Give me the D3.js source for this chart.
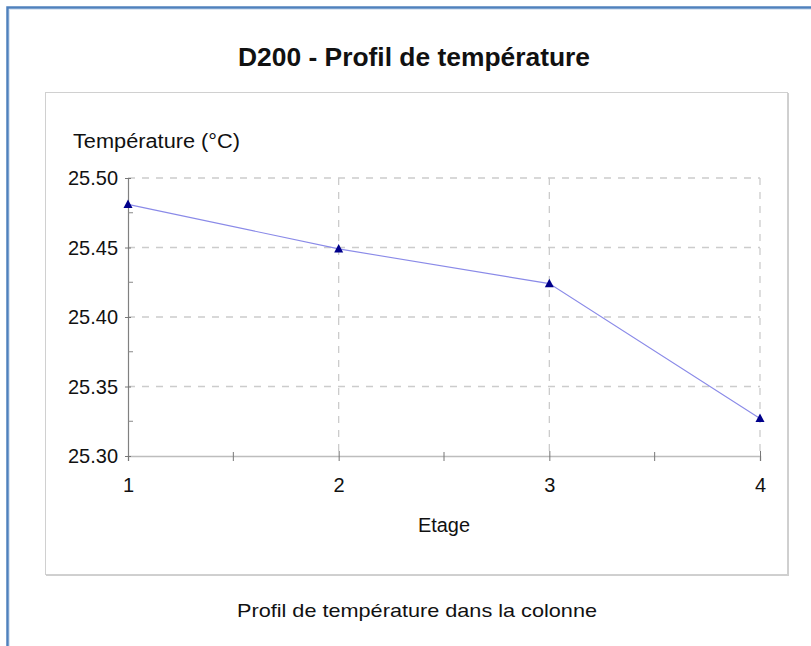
<!DOCTYPE html>
<html><head><meta charset="utf-8">
<script src="https://cdn.jsdelivr.net/npm/d3@7"></script>
<style>body{margin:0;background:#fff;} svg{display:block;font-family:"Liberation Sans",Arial,sans-serif;}</style>
</head><body>
<svg id="c" width="811" height="646"></svg>
<script>
const etages = [1, 2, 3, 4];
const temperatures = [25.481, 25.449, 25.424, 25.327];
const yTicks = [25.30, 25.35, 25.40, 25.45, 25.50];
const yMinorTicks = [25.325, 25.375, 25.425, 25.475];
const xMinorTicks = [1.5, 2.5, 3.5];
const title = "D200 - Profil de température";
const yLabel = "Température (°C)";
const xLabel = "Etage";
const caption = "Profil de température dans la colonne";

const svg = d3.select("#c");
// outer blue frame
svg.append("rect").attr("x", 7.5).attr("y", 7.5).attr("width", 820).attr("height", 660)
  .attr("fill", "none").attr("stroke", "#4f81bd").attr("stroke-width", 2.5);
svg.append("rect").attr("x", 9.5).attr("y", 9.5).attr("width", 820).attr("height", 660)
  .attr("fill", "none").attr("stroke", "#dce6f2").attr("stroke-width", 1);

svg.append("text").attr("x", 414).attr("y", 66).attr("text-anchor", "middle")
  .attr("font-size", 25).attr("font-weight", "bold").attr("fill", "#111")
  .attr("textLength", 352).attr("lengthAdjust", "spacingAndGlyphs").text(title);

// inner box with shadow
svg.append("rect").attr("x", 46).attr("y", 93).attr("width", 743).attr("height", 483).attr("fill", "#cfcfcf");
svg.append("rect").attr("x", 45.5).attr("y", 92.5).attr("width", 742).attr("height", 482)
  .attr("fill", "#fff").attr("stroke", "#d0d0d0").attr("stroke-width", 1);

const x = d3.scaleLinear().domain([1, 4]).range([128, 760]);
const y = d3.scaleLinear().domain([25.30, 25.50]).range([456, 178]);

// grid
const g = svg.append("g");
g.selectAll(".hg").data(yTicks.filter(d => d > 25.30)).join("line")
  .attr("x1", x(1)).attr("x2", x(4)).attr("y1", d => y(d)).attr("y2", d => y(d))
  .attr("stroke", "#cccccc").attr("stroke-dasharray", "7,7").attr("stroke-width", 1.3);
g.selectAll(".vg").data(etages.filter(d => d > 1)).join("line")
  .attr("x1", d => x(d)).attr("x2", d => x(d)).attr("y1", y(25.50)).attr("y2", y(25.30))
  .attr("stroke", "#cccccc").attr("stroke-dasharray", "7,7").attr("stroke-width", 1.3);

// x axis
const xAxis = d3.axisBottom(x).tickValues(etages).tickFormat(d3.format("d")).tickSize(5).tickPadding(17);
const xa = svg.append("g").attr("transform", `translate(0,${y(25.30)})`).call(xAxis);
xa.select(".domain").attr("stroke", "#bdbdbd").attr("stroke-width", 1.5);
xa.selectAll(".tick line").attr("stroke", "#777").attr("y1", -5);
xa.selectAll(".tick text").attr("font-size", 20).attr("fill", "#111")
  .attr("font-family", "Liberation Sans, Arial, sans-serif");
svg.append("g").selectAll("line").data(xMinorTicks).join("line")
  .attr("x1", d => x(d)).attr("x2", d => x(d)).attr("y1", y(25.30) - 4).attr("y2", y(25.30) + 5)
  .attr("stroke", "#777");

// y axis
const yAxis = d3.axisLeft(y).tickValues(yTicks).tickFormat(d3.format(".2f")).tickSize(3).tickPadding(7);
const ya = svg.append("g").attr("transform", `translate(${x(1)},0)`).call(yAxis);
ya.select(".domain").attr("stroke", "#808080").attr("stroke-width", 1.2);
ya.selectAll(".tick line").attr("stroke", "#777").attr("x2", 3).attr("x1", -3);
ya.selectAll(".tick text").attr("font-size", 21).attr("fill", "#111")
  .attr("textLength", 50).attr("lengthAdjust", "spacingAndGlyphs")
  .attr("font-family", "Liberation Sans, Arial, sans-serif");
svg.append("g").selectAll("line").data(yMinorTicks).join("line")
  .attr("x1", x(1)).attr("x2", x(1) + 5).attr("y1", d => y(d)).attr("y2", d => y(d))
  .attr("stroke", "#888");

// labels
svg.append("text").attr("x", 73).attr("y", 148).attr("font-size", 20).attr("fill", "#111")
  .attr("textLength", 167).attr("lengthAdjust", "spacingAndGlyphs").text(yLabel);
svg.append("text").attr("x", 444).attr("y", 532).attr("text-anchor", "middle").attr("font-size", 20).attr("fill", "#111")
  .attr("textLength", 52).attr("lengthAdjust", "spacingAndGlyphs").text(xLabel);
svg.append("text").attr("x", 417).attr("y", 617).attr("text-anchor", "middle").attr("font-size", 19)
  .attr("fill", "#111").attr("textLength", 360).attr("lengthAdjust", "spacingAndGlyphs").text(caption);

// line
const data = etages.map((e, i) => ({e, t: temperatures[i]}));
svg.append("path").datum(data)
  .attr("d", d3.line().x(d => x(d.e)).y(d => y(d.t)))
  .attr("fill", "none").attr("stroke", "#8a8ae8").attr("stroke-width", 1.1);
svg.append("g").selectAll("path").data(data).join("path")
  .attr("transform", d => `translate(${x(d.e)},${y(d.t)})`)
  .attr("d", "M0,-5L4.5,3.5L-4.5,3.5Z").attr("fill", "#00008b");
</script>
</body></html>
